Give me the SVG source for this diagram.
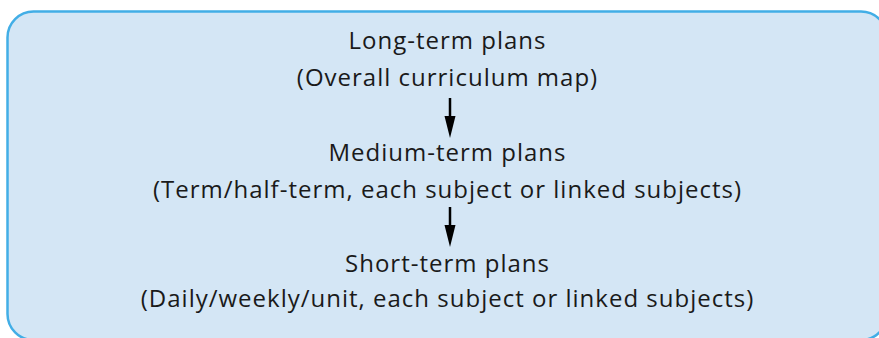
<svg xmlns="http://www.w3.org/2000/svg" width="879" height="338" viewBox="0 0 879 338">
  <style>
    .panel { fill: #d4e6f5; stroke: #42aee6; stroke-width: 2.5; }
    .label { font-family: "Open Sans", "Noto Sans", sans-serif; font-size: 24px; letter-spacing: 1px; fill: #1a1a1a; text-anchor: middle; }
    .link { stroke: #000; stroke-width: 2.5; fill: none; marker-end: url(#head); }
  </style>
  <defs>
    <!-- filled arrowhead, tip 12px beyond the line end -->
    <marker id="head" markerUnits="userSpaceOnUse" markerWidth="24" markerHeight="12" refX="10" refY="6" orient="auto" viewBox="0 0 24 12">
      <path d="M0 0.5 L22 6 L0 11.5 Z" fill="#000"/>
    </marker>
  </defs>

  <!-- background panel -->
  <rect class="panel" x="7.5" y="11.5" width="879.5" height="328.5" rx="26" ry="26"/>

  <g id="long-term">
    <text class="label" x="447.5" y="48.5">Long-term plans</text>
    <text class="label" x="447.5" y="86">(Overall curriculum map)</text>
  </g>

  <g id="medium-term">
    <text class="label" x="447.5" y="161">Medium-term plans</text>
    <text class="label" x="447.5" y="197.5">(Term/half-term, each subject or linked subjects)</text>
  </g>

  <g id="short-term">
    <text class="label" x="447.5" y="272">Short-term plans</text>
    <text class="label" x="447.5" y="307">(Daily/weekly/unit, each subject or linked subjects)</text>
  </g>

  <g id="connectors">
    <line class="link" x1="450" y1="98" x2="450" y2="126"/>
    <line class="link" x1="450" y1="207" x2="450" y2="235"/>
  </g>
</svg>
